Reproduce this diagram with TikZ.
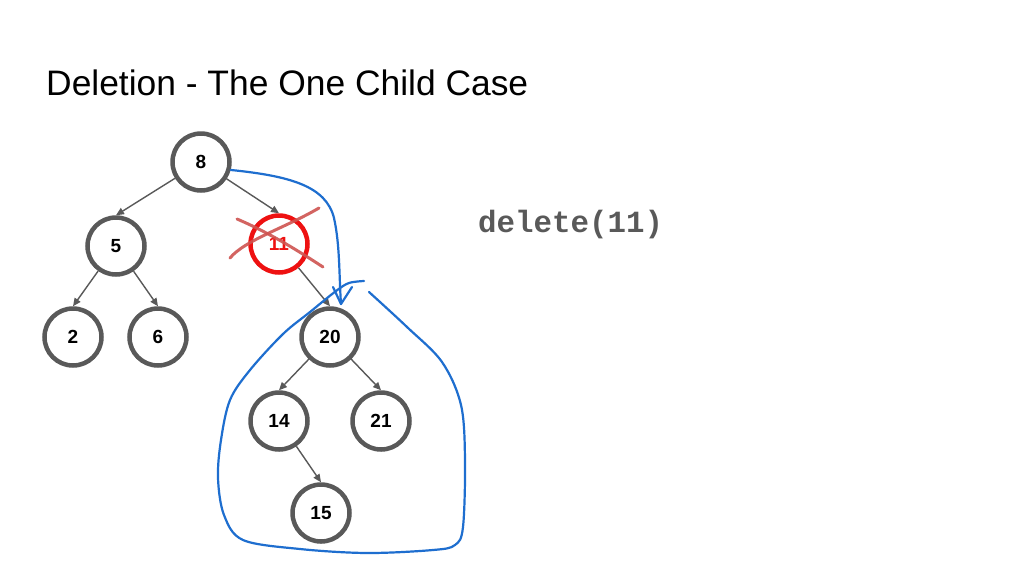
\documentclass[tikz,border=0pt]{standalone}
\usepackage{fontspec}
\setmainfont{Liberation Sans}
\newfontfamily\codefont{Liberation Mono}
\usetikzlibrary{arrows.meta}
\definecolor{nodegray}{HTML}{595959}
\definecolor{delred}{HTML}{EE1111}
\definecolor{crossred}{HTML}{CF5450}
\definecolor{penblue}{HTML}{1E6ECF}
\begin{document}
\begin{tikzpicture}[x=1pt,y=-1pt,
 bst/.style={circle,draw=nodegray,line width=4.5pt,minimum size=57pt,inner sep=0pt,font=\fontsize{19}{19}\selectfont\bfseries},
 deleted/.style={bst,draw=delred,text=delred},
 edge/.style={draw=nodegray,line width=1.4pt,-{Triangle[length=8pt,width=7pt]}},
 pen/.style={draw=penblue,line width=2.2pt,line cap=round,line join=round},
 cross/.style={draw=crossred,line width=3pt,line cap=round,opacity=0.9}]
\useasboundingbox[fill=white] (0,0) rectangle (1024,576);
\node[anchor=base west,inner sep=0pt,font=\fontsize{35.4}{35.4}\selectfont] (title) at (46,95) {Deletion - The One Child Case};
\node[anchor=base west,inner sep=0pt,text=nodegray,font=\codefont\bfseries\fontsize{30.8}{30.8}\selectfont] (code) at (478,232) {delete(11)};
\node[bst] (n8) at (201,162) {8};
\node[bst] (n5) at (116,246) {5};
\node[deleted] (n11) at (279,244) {11};
\node[bst] (n2) at (73,337) {2};
\node[bst] (n6) at (158,337) {6};
\node[bst] (n20) at (330,337) {20};
\node[bst] (n14) at (279,421) {14};
\node[bst] (n21) at (381,421) {21};
\node[bst] (n15) at (321,513) {15};
\draw[edge] (n8) -- (n5.north);
\draw[edge] (n8) -- (n11.north);
\draw[edge] (n5) -- (n2.north);
\draw[edge] (n5) -- (n6.north);
\draw[edge] (n11) -- (n20.north);
\draw[edge] (n20) -- (n14.north);
\draw[edge] (n20) -- (n21.north);
\draw[edge] (n14) -- (n15.north);
% red cross over 11
\draw[cross] (237,219) .. controls (270,233) and (300,252) .. (323,267);
\draw[cross] (230,258) .. controls (245,240) and (285,228) .. (319,208);
% blue pen annotation
\coordinate (tip) at (341,304);
\draw[pen] (n8.-15) .. controls (290,176) and (326,186) .. (334,218) .. controls (340,245) and (339,275) .. (tip);
\draw[pen] (333,287) -- (tip) -- (352,287);
\draw[pen,smooth,tension=0.55] plot coordinates {(364,281) (349,283) (336,291) (310,312) (283,334) (250,370) (230,400) (221,440) (218,478) (224,515) (243,540) (300,549) (367,553) (433,550) (455,545) (463,527) (465,460) (461,405) (442,362) (407,327) (369,292)};
\end{tikzpicture}
\end{document}
